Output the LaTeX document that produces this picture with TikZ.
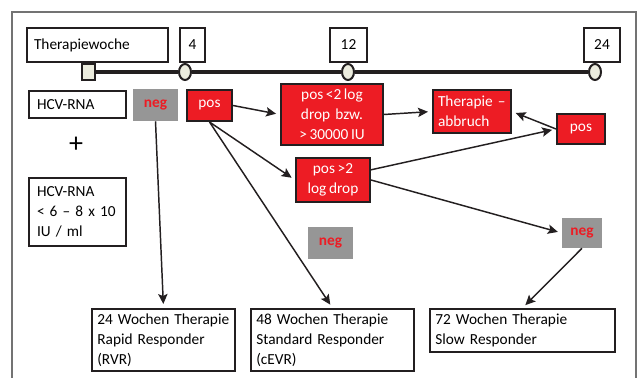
\documentclass[tikz,border=0pt]{standalone}
\usepackage{fontspec}
\setmainfont{Carlito}[WordSpace=0.75]
\usetikzlibrary{positioning, arrows.meta, shapes.geometric}

\definecolor{hcvred}{RGB}{237,28,36}
\definecolor{hcvgray}{RGB}{150,150,150}
\definecolor{hcvdot}{RGB}{236,236,222}
\definecolor{hcvline}{RGB}{35,31,32}

\tikzset{
    every node/.style = {font=\fontsize{11.5}{15}\selectfont, inner sep=0pt},
    box/.style = {draw=hcvline, line width=1.5pt, fill=white},
    leftbox/.style = {box, align=left, inner xsep=4pt},
    redbox/.style = {draw=hcvline, line width=1.5pt, fill=hcvred, text=white, align=center},
    graybox/.style = {fill=hcvgray, text=hcvred, font=\fontsize{11.5}{15}\selectfont\bfseries},
    weekdot/.style = {ellipse, draw=hcvline, line width=1.5pt, fill=hcvdot,
        minimum width=9pt, minimum height=12pt},
    arr/.style = {-{Stealth[length=7.5pt, width=7pt, inset=1.5pt]}, line width=1.1pt,
        draw=hcvline, shorten >=3pt}
}

\begin{document}
\begin{tikzpicture}[x=0.75pt, y=-0.75pt]
    \useasboundingbox (0,0) rectangle (637,378);
    \clip (0,0) rectangle (637,378);
    \draw[gray!90!black, line width=0.8pt] (12,12) rectangle (636,400);

    % weeks and time line
    \node[leftbox, inner xsep=5.25pt, text width=95.25pt, minimum height=25.5pt] (woche) at (97.5,45) {Therapiewoche};
    \node[box, minimum width=18.75pt, minimum height=25.5pt] (wk4) at (192.5,45) {4};
    \node[box, minimum width=27.75pt, minimum height=25.5pt] (wk12) at (348.5,45) {12};
    \node[box, minimum width=27pt, minimum height=25.5pt] (wk24) at (602,45) {24};

    \node[draw=hcvline, line width=1.5pt, fill=hcvdot, minimum width=9.75pt, minimum height=12pt] (start) at (88.5,72) {};
    \node[weekdot] (dot4) at (185,72) {};
    \node[weekdot] (dot12) at (348,72) {};
    \node[weekdot] (dot24) at (595,72) {};
    \draw[hcvline, line width=2.5pt] (start.east) -- (dot4.west);
    \draw[hcvline, line width=2.5pt] (dot4.east) -- (dot12.west);
    \draw[hcvline, line width=2.5pt] (dot12.east) -- (dot24.west);

    % viral load
    \node[leftbox, inner xsep=6pt, text width=60.75pt, minimum height=20.25pt] (hcv) at (77.5,104.5) {HCV-RNA};
    \node[font=\fontsize{21}{21}\selectfont] (plus) at (76,145) {+};
    \node[leftbox, inner xsep=6pt, text width=60.75pt, minimum height=51pt] (limit) at (77.5,212)
        {HCV-RNA\\< 6 -- 8 x 10\\IU / ml};

    % results
    \node[graybox, minimum width=33.75pt, minimum height=24pt] (neg1) at (155.5,105) {neg};
    \node[redbox, minimum width=33.75pt, minimum height=23.25pt] (pos1) at (209.5,105.5) {pos};
    \node[redbox, minimum width=76.5pt, minimum height=45.75pt] (poslow) at (332,114.5)
        {pos <2 log\\drop\ \ bzw.\\> 30000 IU};
    \node[redbox, align=left, inner xsep=3.75pt, text width=51pt, minimum height=32.25pt] (abbruch) at (472,111.5)
        {Therapie --\\abbruch};
    \node[redbox, minimum width=36pt, minimum height=22.5pt] (pos2) at (581,129) {pos};
    \node[redbox, minimum width=55.5pt, minimum height=33pt] (poshigh) at (333,180) {pos >2\\log drop};
    \node[graybox, minimum width=33.75pt, minimum height=24pt] (neg2) at (330.5,243) {neg};
    \node[graybox, minimum width=30pt, minimum height=22.5pt] (neg3) at (582,233) {neg};

    % therapy duration
    \node[leftbox, text width=99.25pt, minimum height=46.5pt] (rvr) at (163.5,340)
        {24 Wochen Therapie\\Rapid Responder\\(RVR)};
    \node[leftbox, text width=114.25pt, minimum height=46.5pt] (cevr) at (332.5,340)
        {48 Wochen Therapie\\Standard Responder\\(cEVR)};
    \node[leftbox, text width=130.75pt, minimum height=32.25pt] (slow) at (522.5,330.5)
        {72 Wochen Therapie\\Slow Responder};

    \draw[arr] (neg1.south) -- (rvr.north);
    \draw[arr] (pos1.east) -- (poslow.west);
    \draw[arr] (pos1.south) -- (poshigh.west);
    \draw[arr] (pos1.south) -- (cevr.north);
    \draw[arr] (poslow.east) -- (abbruch.west);
    \draw[arr] (pos2.west) -- (abbruch.east);
    \draw[arr] (poshigh.15) -- (pos2.west);
    \draw[arr] (poshigh.east) -- (neg3.west);
    \draw[arr] (neg3.south) -- (slow.north);
\end{tikzpicture}
\end{document}
